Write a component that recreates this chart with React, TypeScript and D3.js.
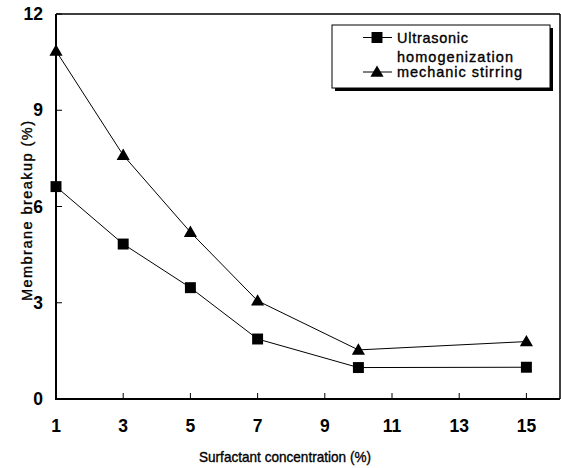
import React from "react";
import * as d3 from "d3";

const concentrations = [1, 3, 5, 7, 10, 15];
const ultrasonic = [6.62, 4.83, 3.47, 1.87, 0.98, 0.99];
const mechanic = [10.85, 7.6, 5.2, 3.06, 1.53, 1.79];
const xTicks = [1, 3, 5, 7, 9, 11, 13, 15];
const yTicks = [0, 3, 6, 9, 12];
const seriesNames = ["Ultrasonic", "homogenization", "mechanic stirring"];

const W = 561, H = 468;
const left = 56, right = 560, top = 14, bottom = 399;

export default function App() {
  const x = d3.scaleLinear().domain([1, 16]).range([left, right]);
  const y = d3.scaleLinear().domain([0, 12]).range([bottom, top]);
  const line = d3.line<number>().x((_, i) => x(concentrations[i])).y((d) => y(d));
  const font = "'Liberation Sans', Arial, sans-serif";
  const tri = d3.symbol().type(d3.symbolTriangle).size(75)();
  const sq = d3.symbol().type(d3.symbolSquare).size(120)();

  return (
    <svg width={W} height={H} style={{ position: "absolute", left: 0, top: 0, background: "#fff" }} fontFamily={font}>
      {/* frame */}
      <line x1={left} x2={right} y1={top} y2={top} stroke="#000" strokeWidth={1.5} />
      <line x1={right} x2={right} y1={top} y2={bottom} stroke="#000" strokeWidth={1.5} />
      <line x1={left} x2={left} y1={top} y2={bottom + 1} stroke="#000" strokeWidth={2} />
      <line x1={left - 1} x2={right} y1={bottom} y2={bottom} stroke="#000" strokeWidth={2} />
      {xTicks.map((t) => (
        <g key={"x" + t}>
          <line x1={x(t)} x2={x(t)} y1={bottom} y2={bottom - 6} stroke="#000" strokeWidth={1} />
          <text x={x(t)} y={432} textAnchor="middle" fontSize={17.5} fontWeight="bold">{t}</text>
        </g>
      ))}
      {yTicks.map((t) => (
        <g key={"y" + t}>
          <line x1={left} x2={left + 6} y1={y(t)} y2={y(t)} stroke="#000" strokeWidth={1} />
          <text x={43} y={y(t) + 6} textAnchor="end" fontSize={17.5} fontWeight="bold">{t}</text>
        </g>
      ))}
      <text x={285} y={462} textAnchor="middle" fontSize={14.5} stroke="#000" strokeWidth={0.35} textLength={172} lengthAdjust="spacingAndGlyphs">Surfactant concentration (%)</text>
      <text transform={`translate(32,${211}) rotate(-90)`} textAnchor="middle" fontSize={14.5} stroke="#000" strokeWidth={0.35} textLength={180} lengthAdjust="spacing">Membrane breakup (%)</text>

      <path d={line(ultrasonic) || ""} fill="none" stroke="#000" strokeWidth={1} />
      <path d={line(mechanic) || ""} fill="none" stroke="#000" strokeWidth={1} />
      {ultrasonic.map((v, i) => (
        <path key={"u" + i} d={sq || ""} transform={`translate(${x(concentrations[i])},${y(v)})`} fill="#000" />
      ))}
      {mechanic.map((v, i) => (
        <path key={"m" + i} d={tri || ""} transform={`translate(${x(concentrations[i])},${y(v) + 1})`} fill="#000" />
      ))}

      {/* legend */}
      <rect x={335} y={28} width={218} height={63} fill="#000" />
      <rect x={332} y={25} width={218} height={63} fill="#fff" stroke="#000" strokeWidth={1} />
      <line x1={363} x2={392} y1={37.5} y2={37.5} stroke="#000" strokeWidth={1} />
      <path d={sq || ""} transform="translate(377,37.5)" fill="#000" />
      <line x1={363} x2={392} y1={72} y2={72} stroke="#000" strokeWidth={1} />
      <path d={tri || ""} transform="translate(377,73)" fill="#000" />
      <text x={397} y={42.5} fontSize={14.5} stroke="#000" strokeWidth={0.35} textLength={71} lengthAdjust="spacing">{seriesNames[0]}</text>
      <text x={397} y={61.5} fontSize={14.5} stroke="#000" strokeWidth={0.35} textLength={116} lengthAdjust="spacing">{seriesNames[1]}</text>
      <text x={397} y={77} fontSize={14.5} stroke="#000" strokeWidth={0.35} textLength={125} lengthAdjust="spacing">{seriesNames[2]}</text>
    </svg>
  );
}
